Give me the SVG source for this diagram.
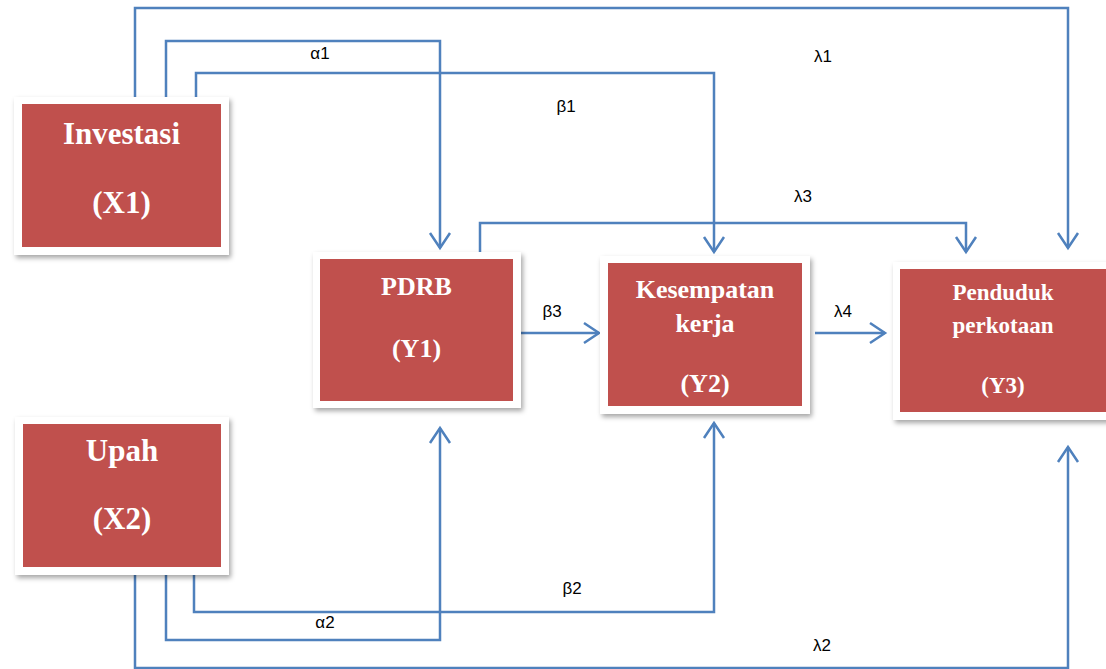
<svg xmlns="http://www.w3.org/2000/svg" width="1106" height="669" viewBox="0 0 1106 669">
<defs>
<filter id="sh" x="-10%" y="-10%" width="125%" height="130%">
<feDropShadow dx="2" dy="3" stdDeviation="2.5" flood-color="#000" flood-opacity="0.35"/>
</filter>
<marker id="ah" markerUnits="userSpaceOnUse" markerWidth="30" markerHeight="30" viewBox="-20 -15 25 30" refX="0" refY="0" orient="auto" overflow="visible">
<path d="M-15,-10 L0,0 L-15,10" fill="none" stroke="#4f81bd" stroke-width="2.5"/>
</marker>
</defs>
<style>
.frame{fill:#fff;filter:url(#sh)}
.box{fill:#c0504d}
.nt{font-family:"Liberation Serif",serif;font-weight:bold;fill:#fff;text-anchor:middle}
.big{font-size:31px}
.mid{font-size:26px}
.sm{font-size:23px}
.c{fill:none;stroke:#4f81bd;stroke-width:2.5;marker-end:url(#ah)}
.lb{font-family:"Liberation Sans",sans-serif;font-size:17px;fill:#000;text-anchor:middle}
</style>
<rect width="1106" height="669" fill="#fff"/>
<g id="connectors">
<path class="c" d="M135,97 V8 H1068 V248"/>
<path class="c" d="M166,97 V41 H440 V248"/>
<path class="c" d="M196,97 V73 H714 V252"/>
<path class="c" d="M480,252 V223 H966 V252"/>
<path class="c" d="M521,333 H599"/>
<path class="c" d="M815,333 H885"/>
<path class="c" d="M166,575 V640 H440 V428"/>
<path class="c" d="M194,575 V612 H714 V423"/>
<path class="c" d="M135,575 V668 H1068 V447"/>
</g>
<g id="labels">
<text class="lb" x="320" y="59">α1</text>
<text class="lb" x="566" y="112">β1</text>
<text class="lb" x="823" y="62">λ1</text>
<text class="lb" x="803" y="202">λ3</text>
<text class="lb" x="552" y="317">β3</text>
<text class="lb" x="843" y="317">λ4</text>
<text class="lb" x="572" y="594">β2</text>
<text class="lb" x="325" y="628">α2</text>
<text class="lb" x="822" y="651">λ2</text>
</g>
<g id="X1">
<rect class="frame" x="14" y="97" width="215" height="158"/>
<rect class="box" x="22" y="104" width="199" height="143"/>
<text class="nt big" x="121.5" y="144">Investasi</text>
<text class="nt big" x="121.5" y="213">(X1)</text>
</g>
<g id="X2">
<rect class="frame" x="15" y="417" width="214" height="158"/>
<rect class="box" x="23" y="424" width="198" height="143"/>
<text class="nt big" x="122" y="461">Upah</text>
<text class="nt big" x="122" y="529">(X2)</text>
</g>
<g id="Y1">
<rect class="frame" x="313" y="252" width="208" height="156"/>
<rect class="box" x="320" y="259" width="193" height="142"/>
<text class="nt mid" x="416.5" y="295">PDRB</text>
<text class="nt mid" x="416.5" y="357">(Y1)</text>
</g>
<g id="Y2">
<rect class="frame" x="600" y="256" width="210" height="158"/>
<rect class="box" x="608" y="263" width="194" height="143"/>
<text class="nt mid" x="705" y="298">Kesempatan</text>
<text class="nt mid" x="705" y="332">kerja</text>
<text class="nt mid" x="705" y="392">(Y2)</text>
</g>
<g id="Y3">
<rect class="frame" x="893" y="262" width="220" height="158"/>
<rect class="box" x="900" y="269" width="210" height="143"/>
<text class="nt sm" x="1003" y="300">Penduduk</text>
<text class="nt sm" x="1003" y="333">perkotaan</text>
<text class="nt sm" x="1003" y="393">(Y3)</text>
</g>
</svg>
